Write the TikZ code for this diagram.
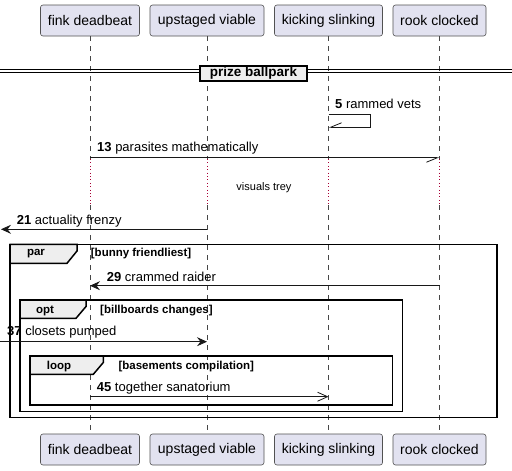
\documentclass[tikz,border=0pt]{standalone}
\usepackage{fontspec}
\setmainfont{Liberation Sans}
\usetikzlibrary{arrows.meta}
\definecolor{partfill}{HTML}{E2E2F0}
\definecolor{tabfill}{HTML}{EEEEEE}
\definecolor{lifec}{HTML}{181818}
\definecolor{delayc}{HTML}{A80036}
\tikzset{
  part/.style={draw=lifec!75, fill=partfill, rounded corners=2.5pt, line width=0.6pt,
    font=\fontsize{14}{16}\selectfont, inner sep=0pt, minimum height=31pt},
  life/.style={draw=lifec!80, line width=0.6pt, dash pattern=on 5pt off 5pt},
  delayline/.style={draw=delayc, line width=0.8pt, dash pattern=on 0.8pt off 2.6pt},
  msg/.style={draw=lifec, line width=0.8pt},
  lbl/.style={anchor=west, inner sep=0pt, font=\fontsize{13}{15}\selectfont},
  frm/.style={draw=black, line width=1.5pt},
  tab/.style={draw=black, line width=1.5pt, fill=tabfill},
  frmtxt/.style={inner sep=0pt, font=\fontsize{11.5}{13}\selectfont\bfseries},
  filled/.style={-{Stealth[length=10pt,width=9pt,inset=3.5pt]}},
  openhead/.style={-{Straight Barb[length=10pt,width=9pt,line width=0.8pt]}},
}
\begin{document}
\begin{tikzpicture}[x=1pt,y=-1pt]
\useasboundingbox (0,0) rectangle (512,471);
\fill[white] (0,0) rectangle (512,471);

% participants
\node[part, minimum width=99pt] (fT) at (90,20.5) {fink deadbeat};
\node[part, minimum width=114pt] (uT) at (207,20.5) {upstaged viable};
\node[part, minimum width=108pt] (kT) at (328.5,20.5) {kicking slinking};
\node[part, minimum width=93pt] (rT) at (439.5,20.5) {rook clocked};
\node[part, minimum width=99pt] (fB) at (90,449.5) {fink deadbeat};
\node[part, minimum width=114pt] (uB) at (207,449.5) {upstaged viable};
\node[part, minimum width=108pt] (kB) at (328.5,449.5) {kicking slinking};
\node[part, minimum width=93pt] (rB) at (439.5,449.5) {rook clocked};

% lifelines with delay
\foreach \p/\x in {f/90,u/207,k/328.5,r/439.5}{
  \coordinate (\p D1) at (\x,159);
  \coordinate (\p D2) at (\x,205);
  \draw[life] (\p T.south) -- (\p D1);
  \draw[delayline] (\p D1) -- (\p D2);
  \draw[life] (\p D2) -- (\p B.north);
}
\node[inner sep=0pt, font=\fontsize{11}{13}\selectfont] (delay) at (264,187.3) {visuals trey};

% divider
\coordinate (dl1) at (0,69.5); \coordinate (dr1) at (512,69.5);
\coordinate (dl2) at (0,72.5); \coordinate (dr2) at (512,72.5);
\draw[line width=0.9pt] (dl1) -- (dr1);
\draw[line width=0.9pt] (dl2) -- (dr2);
\node[draw=black, line width=1.5pt, fill=tabfill, inner sep=0pt, minimum width=107pt, minimum height=15pt,
  font=\fontsize{13.5}{15}\selectfont\bfseries] (div) at (253.5,73.5) {prize ballpark};

% message 5 (self)
\coordinate (m5a) at (328.5,114.3);
\coordinate (m5b) at (370,114.3);
\coordinate (m5c) at (370,127.3);
\coordinate (m5d) at (328.5,127.3);
\draw[msg, -{Straight Barb[length=11pt,width=9pt,line width=0.8pt,right]}] (m5a) -- (m5b) -- (m5c) -- (m5d);
\node[lbl] (l5) at (335,104) {\textbf{5} rammed vets};

% message 13
\coordinate (m13a) at (90,157.7);
\coordinate (m13b) at (439.5,157.7);
\draw[msg, -{Straight Barb[length=11pt,width=9pt,line width=0.8pt,right]}] (m13a) -- (m13b);
\node[lbl] (l13) at (97,148.3) {\textbf{13} parasites mathematically};

% message 21
\coordinate (m21a) at (207,229.3);
\coordinate (m21b) at (1,229.3);
\draw[msg, filled] (m21a) -- (m21b);
\node[lbl] (l21) at (16.7,220.7) {\textbf{21} actuality frenzy};

% par frame
\coordinate (parTL) at (10,244.3);
\coordinate (parBR) at (497,417.7);
\draw[frm] (parTL) rectangle (parBR);
\draw[tab] (10,244.3) -- (77,244.3) -- (77,251) -- (67,263.3) -- (10,263.3) -- cycle;
\node[frmtxt] (parlbl) at (36,254) {par};
\node[frmtxt, anchor=west] (parcond) at (90.7,254) {[bunny friendliest]};

% message 29
\coordinate (m29a) at (439.5,285.7);
\coordinate (m29b) at (90,285.7);
\draw[msg, filled] (m29a) -- (m29b);
\node[lbl] (l29) at (106.7,276.7) {\textbf{29} crammed raider};

% opt frame
\coordinate (optTL) at (20,300);
\coordinate (optBR) at (402.7,411.7);
\draw[frm] (optTL) rectangle (optBR);
\draw[tab] (20,300) -- (86,300) -- (86,306.5) -- (76,318.3) -- (20,318.3) -- cycle;
\node[frmtxt] (optlbl) at (45,311) {opt};
\node[frmtxt, anchor=west] (optcond) at (100,311) {[billboards changes]};

% message 37
\coordinate (m37a) at (0,341.7);
\coordinate (m37b) at (207,341.7);
\draw[msg, filled] (m37a) -- (m37b);
\node[lbl] (l37) at (7,331.7) {\textbf{37} closets pumped};

% loop frame
\coordinate (loopTL) at (30,356);
\coordinate (loopBR) at (392.7,405);
\draw[frm] (loopTL) rectangle (loopBR);
\draw[tab] (30,356) -- (103.3,356) -- (103.3,362.5) -- (93.3,374.3) -- (30,374.3) -- cycle;
\node[frmtxt] (looplbl) at (59,366.7) {loop};
\node[frmtxt, anchor=west] (loopcond) at (118.3,366.7) {[basements compilation]};

% message 45
\coordinate (m45a) at (90,396.7);
\coordinate (m45b) at (328.5,396.7);
\draw[msg, openhead] (m45a) -- (m45b);
\node[lbl] (l45) at (96.7,387.7) {\textbf{45} together sanatorium};
\end{tikzpicture}
\end{document}
